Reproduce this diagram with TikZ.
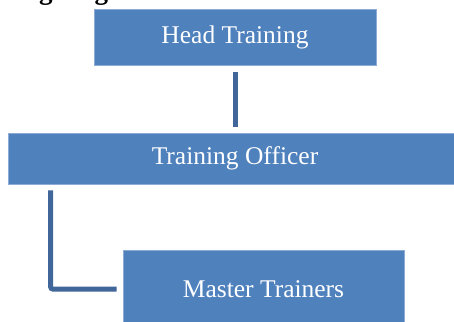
\documentclass[tikz,border=0pt]{standalone}
\usepackage{fontspec}
\setmainfont{Liberation Serif}
\definecolor{boxblue}{HTML}{4F81BD}
\definecolor{boxedge}{HTML}{8EAAD6}
\definecolor{linkblue}{HTML}{41679A}
\tikzset{
    post/.style={fill=boxblue, draw=boxedge, line width=0.6pt, inner sep=0pt,
        text=white, font=\fontsize{25.5}{30}\selectfont},
    link/.style={draw=linkblue, line width=5pt, rounded corners=2pt}
}
\begin{document}
\begin{tikzpicture}[x=1pt,y=-1pt]
                \useasboundingbox (0,0) rectangle (454,321);
                \clip (0,0) rectangle (454,321);
                \node[anchor=base west, font=\bfseries\fontsize{27}{30}\selectfont, inner sep=0pt] (title) at (6,0) {Organogram};

                \node[post, minimum width=282pt, minimum height=56pt] (head) at (235,37.5) {Head Training};
                \node[post, minimum width=454pt, minimum height=51pt] (officer) at (235,158.5) {Training Officer};
                \node[post, minimum width=281pt, minimum height=78pt] (master) at (263.5,289) {Master Trainers};

                \draw[link] ([yshift=-6pt]head.south) -- ([yshift=6pt]officer.north);
                \draw[link] ([xshift=43pt,yshift=-6pt]officer.south west) |- ([xshift=-6pt]master.west);
            \end{tikzpicture}
\end{document}
